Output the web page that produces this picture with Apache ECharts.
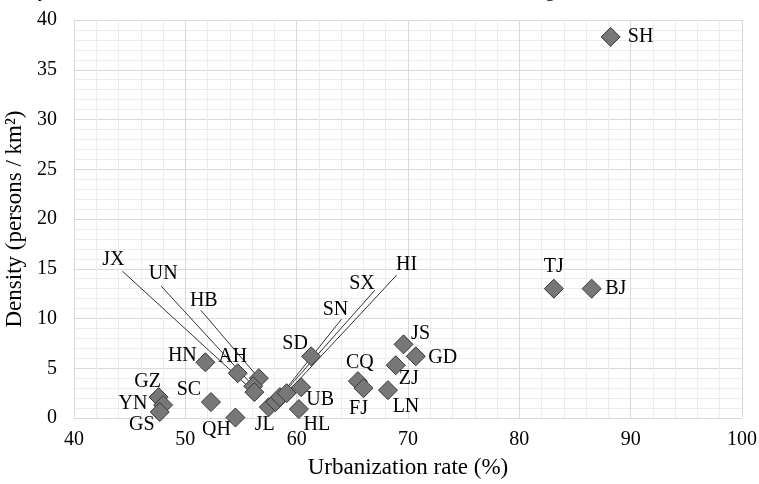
<!DOCTYPE html>
<html>
<head>
<meta charset="utf-8">
<script src="https://cdn.jsdelivr.net/npm/echarts@6/dist/echarts.min.js"></script>
<style>
  html, body { margin: 0; padding: 0; background: #fff; }
  #chart { width: 759px; height: 484px; }
</style>
</head>
<body>
<div id="chart"></div>
<script>
// provinces, urbanization rate (%) and density
const provinces = ['SH', 'BJ', 'TJ', 'JS', 'GD', 'ZJ', 'LN', 'CQ', 'FJ', 'SD', 'UB', 'HL', 'JL',
    'SN', 'SX', 'HI', 'HB', 'UN', 'JX', 'AH', 'HN', 'SC', 'QH', 'GZ', 'YN', 'GS'];
const urbanization = [88.2, 86.5, 83.1, 69.6, 70.7, 68.9, 68.2, 65.5, 66.0, 61.3, 60.4, 60.2, 57.5,
    58.1, 58.5, 59.1, 56.6, 56.1, 56.2, 54.7, 51.8, 52.3, 54.5, 47.6, 48.0, 47.7];
const density = [38.3, 13.0, 13.0, 7.4, 6.2, 5.3, 2.8, 3.7, 3.0, 6.2, 3.1, 0.9, 1.1,
    1.6, 2.1, 2.5, 4.0, 3.2, 2.6, 4.5, 5.6, 1.6, 0.05, 2.1, 1.3, 0.6];
const xTicks = [40, 50, 60, 70, 80, 90, 100];
const yTicks = [0, 5, 10, 15, 20, 25, 30, 35, 40];

// label center offsets from the marker (px)
const labelOffset = {
    SH: [30, 0], BJ: [24, 0], TJ: [0, -22], JS: [17, -11], GD: [27, 1], ZJ: [13, 13],
    LN: [18, 17], CQ: [2, -18], FJ: [-5, 21], HL: [18, 16], UB: [19, 13], SD: [-16, -13],
    JL: [-4, 18], AH: [-5, -16], HN: [-23, -7], GZ: [-11, -15], YN: [-30, -1], GS: [-18, 13],
    SC: [-22, -12], QH: [-19, 12],
    SN: [60, -92], SX: [82, -113], HI: [120, -128], JX: [-141, -132], UN: [-90, -112], HB: [-55, -77]
};
// leader line end offsets (px)
const leaderEnd = {
    SN: [66, -83], SX: [95, -107], HI: [110, -118], JX: [-132, -121], UN: [-92, -100], HB: [-58, -68]
};
const leaderNames = Object.keys(leaderEnd);

const font = 'Liberation Serif, Times New Roman, serif';

const chart = echarts.init(document.getElementById('chart'), null, { renderer: 'canvas' });

const points = provinces.map((name, i) => ({
    name: name,
    value: [urbanization[i], density[i]]
}));

const leaderData = leaderNames.map(n => {
    const i = provinces.indexOf(n);
    return [urbanization[i], density[i]];
});

const option = {
    backgroundColor: '#fff',
    animation: false,
    grid: { left: 74, right: 17, top: 20, bottom: 66, outerBoundsMode: 'none', containLabel: false },
    xAxis: {
        type: 'value',
        min: xTicks[0],
        max: xTicks[xTicks.length - 1],
        interval: 10,
        name: 'Urbanization rate (%)',
        nameLocation: 'middle',
        nameGap: 38,
        nameTextStyle: { fontFamily: font, fontSize: 23, color: '#000' },
        axisLine: { show: false },
        axisTick: { show: false },
        axisLabel: { fontFamily: font, fontSize: 20, color: '#000', margin: 12 },
        splitLine: { lineStyle: { color: '#d9d9d9', width: 1 } },
        minorSplitLine: { show: true, lineStyle: { color: '#ececec', width: 1 } },
        minorTick: { show: false, splitNumber: 5 }
    },
    yAxis: {
        type: 'value',
        min: yTicks[0],
        max: yTicks[yTicks.length - 1],
        interval: 5,
        name: 'Density (persons / km²)',
        nameLocation: 'middle',
        nameGap: 45,
        nameTextStyle: { fontFamily: font, fontSize: 23, color: '#000' },
        axisLine: { show: false },
        axisTick: { show: false },
        axisLabel: { fontFamily: font, fontSize: 20, color: '#000', margin: 17 },
        splitLine: { lineStyle: { color: '#d9d9d9', width: 1 } },
        minorSplitLine: { show: true, lineStyle: { color: '#ececec', width: 1 } },
        minorTick: { show: false, splitNumber: 5 }
    },
    graphic: [
        { type: 'text', left: 38, top: -19, style: { text: 'y', font: '20px ' + font, fill: '#000' } },
        { type: 'text', left: 545, top: -19, style: { text: 'g', font: '20px ' + font, fill: '#000' } }
    ],
    series: [
        {
            type: 'custom',
            z: 1,
            silent: true,
            data: leaderData,
            renderItem: (params, api) => {
                const p = api.coord([api.value(0), api.value(1)]);
                const off = leaderEnd[leaderNames[params.dataIndex]];
                return {
                    type: 'line',
                    shape: { x1: p[0], y1: p[1], x2: p[0] + off[0], y2: p[1] + off[1] },
                    style: { stroke: '#333', lineWidth: 1 }
                };
            }
        },
        {
            type: 'scatter',
            z: 2,
            symbol: 'diamond',
            symbolSize: 19,
            itemStyle: { color: '#777777', borderColor: '#383838', borderWidth: 1, opacity: 1 },
            label: {
                show: true,
                position: 'inside',
                formatter: '{b}',
                fontFamily: font,
                fontSize: 20,
                color: '#000'
            },
            labelLayout: (params) => {
                const off = labelOffset[provinces[params.dataIndex]];
                return {
                    x: params.rect.x + params.rect.width / 2 + off[0],
                    y: params.rect.y + params.rect.height / 2 + off[1],
                    align: 'center',
                    verticalAlign: 'middle',
                    hideOverlap: false
                };
            },
            data: points
        }
    ]
};

chart.setOption(option);
</script>
</body>
</html>
